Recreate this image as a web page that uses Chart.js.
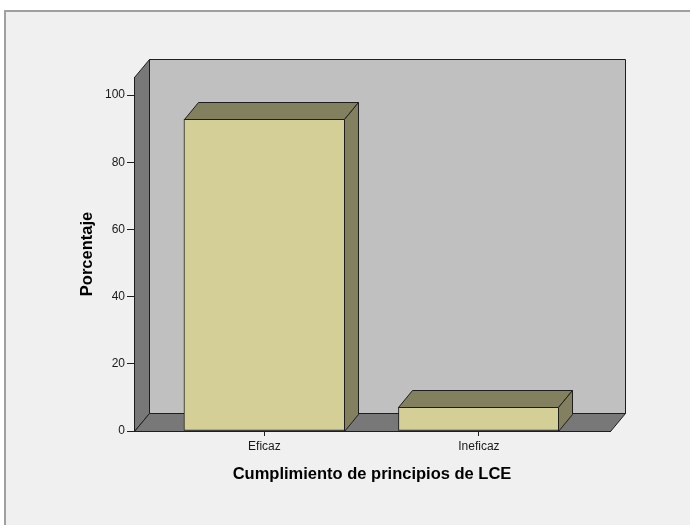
<!DOCTYPE html>
<html>
<head>
<meta charset="utf-8">
<script src="https://cdn.jsdelivr.net/npm/chart.js@4/dist/chart.umd.min.js"></script>
<style>
  body { margin: 0; background: #ffffff; }
  canvas { display: block; }
</style>
</head>
<body>
<canvas id="lceChart" width="690" height="525"></canvas>
<script>
// Data
const categories = ["Eficaz", "Ineficaz"];
const percentages = [92.9, 7.1];
const yTicks = [0, 20, 40, 60, 80, 100];
const yMax = 105.4;
const xMin = -0.608;
const xMax = 1.611;

const FONT = "'Liberation Sans', Arial, sans-serif";
const EDGE = "#1e1e1e";
const depth = { dx: 15, dy: 18 };   // walls
const barDepth = { dx: 14, dy: 17 }; // bar tops / sides

function poly(ctx, pts, fill) {
  ctx.beginPath();
  ctx.moveTo(pts[0][0], pts[0][1]);
  for (let i = 1; i < pts.length; i++) ctx.lineTo(pts[i][0], pts[i][1]);
  ctx.closePath();
  ctx.fillStyle = fill;
  ctx.fill();
  ctx.strokeStyle = EDGE;
  ctx.lineWidth = 1;
  ctx.stroke();
}

// background, frame and the 3D box (back wall, left wall, floor)
const boxPlugin = {
  id: "box3d",
  beforeDraw(chart) {
    const { ctx, width, height, chartArea: a } = chart;
    ctx.save();
    ctx.fillStyle = "#ffffff";
    ctx.fillRect(0, 0, width, height);
    ctx.fillStyle = "#f0f0f0";
    ctx.fillRect(6, 11, width - 6, height - 11);
    ctx.strokeStyle = "#a0a0a0";
    ctx.lineWidth = 2;
    ctx.beginPath();
    ctx.moveTo(5, height);
    ctx.lineTo(5, 11);
    ctx.lineTo(width, 11);
    ctx.stroke();

    const L = a.left + 0.5, R = a.right + 0.5, T = a.top + 0.5, B = a.bottom + 0.5;
    const { dx, dy } = depth;
    // back wall
    poly(ctx, [[L + dx, T - dy], [R + dx, T - dy], [R + dx, B - dy], [L + dx, B - dy]], "#c0c0c0");
    // left wall
    poly(ctx, [[L, B], [L, T], [L + dx, T - dy], [L + dx, B - dy]], "#787878");
    // floor
    poly(ctx, [[L, B], [L + dx, B - dy], [R + dx, B - dy], [R, B]], "#787878");
    ctx.restore();
  },
  afterDatasetsDraw(chart) {
    const { ctx } = chart;
    const { dx, dy } = barDepth;
    ctx.save();
    chart.getDatasetMeta(0).data.forEach((bar) => {
      const l = Math.round(bar.x - bar.width / 2) + 0.5;
      const r = Math.round(bar.x + bar.width / 2) - 0.5;
      const t = Math.round(bar.y) + 0.5;
      const b = Math.round(bar.base) + 0.5;
      // top face
      poly(ctx, [[l, t], [l + dx, t - dy], [r + dx, t - dy], [r, t]], "#838060");
      // side face
      poly(ctx, [[r, t], [r + dx, t - dy], [r + dx, b - dy], [r, b]], "#838060");
    });
    ctx.restore();
  },
};

new Chart(document.getElementById("lceChart"), {
  type: "bar",
  data: {
    datasets: [
      {
        data: categories.map((c, i) => ({ x: i, y: percentages[i] })),
        backgroundColor: "#d3cf97",
        borderColor: EDGE,
        borderWidth: 1,
        borderSkipped: false,
        barThickness: 161,
      },
    ],
  },
  options: {
    responsive: false,
    animation: false,
    events: [],
    layout: { padding: { top: 77, right: 80, left: 0, bottom: 0 } },
    plugins: { legend: { display: false }, tooltip: { enabled: false } },
    scales: {
      x: {
        type: "linear",
        min: xMin,
        max: xMax,
        offset: false,
        afterBuildTicks: (scale) => {
          scale.ticks = categories.map((c, i) => ({ value: i }));
        },
        afterFit: (scale) => {
          scale.height = 94;
        },
        grid: { offset: false, drawOnChartArea: false, drawTicks: true, tickLength: 5, tickColor: EDGE },
        border: { display: true, color: EDGE, width: 1 },
        ticks: {
          maxRotation: 0,
          padding: 3,
          color: "#1a1a1a",
          font: { family: FONT, size: 12 },
          callback: (v) => categories[v],
        },
        title: {
          display: true,
          text: "Cumplimiento de principios de LCE",
          color: "#000000",
          font: { family: FONT, size: 16.5, weight: "bold" },
          padding: { top: 0, bottom: 41 },
        },
      },
      y: {
        min: 0,
        max: yMax,
        afterBuildTicks: (scale) => {
          scale.ticks = yTicks.map((v) => ({ value: v }));
        },
        afterFit: (scale) => {
          scale.width = 134;
        },
        grid: { drawOnChartArea: false, drawTicks: true, tickLength: 7, tickColor: EDGE },
        border: { display: true, color: EDGE, width: 1 },
        ticks: {
          padding: 2,
          color: "#1a1a1a",
          font: { family: FONT, size: 12 },
        },
        title: {
          display: true,
          text: "Porcentaje",
          color: "#000000",
          font: { family: FONT, size: 16.5, weight: "bold" },
          padding: { top: 78, bottom: 0 },
        },
      },
    },
  },
  plugins: [boxPlugin],
});
</script>
</body>
</html>
